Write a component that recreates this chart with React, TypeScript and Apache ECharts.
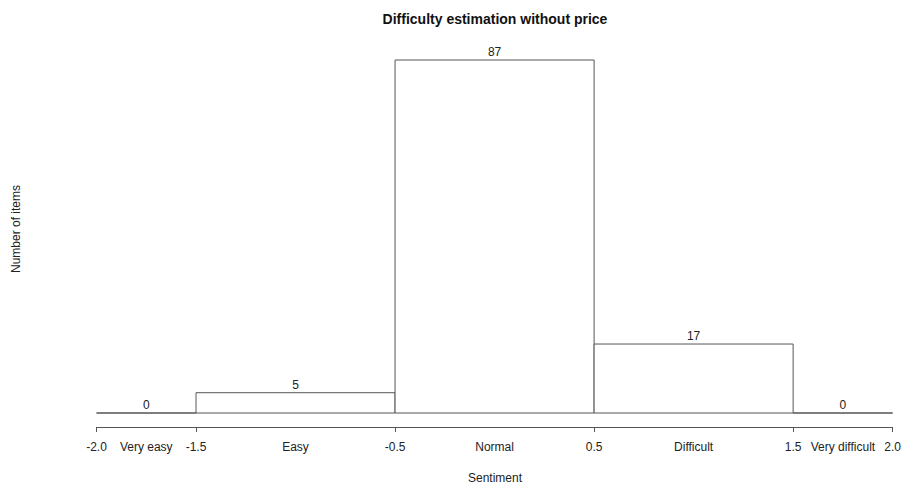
import React, { useEffect, useRef } from "react";
import * as echarts from "echarts";

// Histogram bins on the sentiment scale
const binStart = [-2.0, -1.5, -0.5, 0.5, 1.5];
const binEnd = [-1.5, -0.5, 0.5, 1.5, 2.0];
const counts = [0, 5, 87, 17, 0];

// Axis ticks and the class names placed between them
const tickValues = [-2.0, -1.5, -0.5, 0.5, 1.5, 2.0];
const tickLabels = ["-2.0", "-1.5", "-0.5", "0.5", "1.5", "2.0"];
const classCenters = [-1.75, -1.0, 0.0, 1.0, 1.75];
const classNames = ["Very easy", "Easy", "Normal", "Difficult", "Very difficult"];

const FONT = "'Liberation Sans', Arial, Helvetica, sans-serif";
const INK = "#222";
const LINE = "#555";

export default function App() {
  const ref = useRef<HTMLDivElement>(null);

  useEffect(() => {
    if (!ref.current) return;
    const chart = echarts.init(ref.current, undefined, { renderer: "svg" });

    const labelMap = new Map<number, string>();
    tickValues.forEach((v, i) => labelMap.set(v, tickLabels[i]));
    classCenters.forEach((v, i) => labelMap.set(v, classNames[i]));
    const labelValues = [...tickValues, ...classCenters].sort((a, b) => a - b);

    const data = counts.map((c, i) => [binStart[i], binEnd[i], c]);

    chart.setOption({
      animation: false,
      backgroundColor: "#fff",
      grid: { left: 96.5, right: 9.5, top: 60, bottom: 73 },
      xAxis: {
        type: "value",
        min: -2,
        max: 2,
        offset: 14,
        splitLine: { show: false },
        axisLine: { show: true, onZero: false, lineStyle: { color: LINE, width: 1 } },
        axisTick: {
          show: true,
          length: 5,
          customValues: tickValues,
          lineStyle: { color: LINE },
        },
        axisLabel: {
          customValues: labelValues,
          margin: 14,
          color: INK,
          fontSize: 12,
          fontFamily: FONT,
          formatter: (v: number) => labelMap.get(v) ?? "",
        },
      },
      yAxis: {
        type: "value",
        min: 0,
        max: 87,
        show: false,
      },
      graphic: [
        {
          type: "text",
          x: 495,
          y: 19,
          style: {
            text: "Difficulty estimation without price",
            align: "center",
            verticalAlign: "middle",
            fill: "#111",
            fontSize: 14,
            fontWeight: "bold",
            fontFamily: FONT,
          },
        },
        {
          type: "text",
          x: 495,
          y: 478,
          style: {
            text: "Sentiment",
            align: "center",
            verticalAlign: "middle",
            fill: INK,
            fontSize: 12,
            fontFamily: FONT,
          },
        },
        {
          type: "text",
          x: 16,
          y: 229,
          rotation: Math.PI / 2,
          style: {
            text: "Number of items",
            align: "center",
            verticalAlign: "middle",
            fill: INK,
            fontSize: 12,
            fontFamily: FONT,
          },
        },
      ],
      series: [
        {
          type: "custom",
          data,
          renderItem: (_params: any, api: any) => {
            const x0 = api.value(0);
            const x1 = api.value(1);
            const c = api.value(2);
            const pTop = api.coord([x0, c]);
            const pEnd = api.coord([x1, 0]);
            const left = pTop[0];
            const right = pEnd[0];
            const top = pTop[1];
            const base = pEnd[1];
            return {
              type: "group",
              children: [
                {
                  type: "polygon",
                  shape: {
                    points: [
                      [left, base],
                      [left, top],
                      [right, top],
                      [right, base],
                    ],
                  },
                  style: { fill: "#fff", stroke: LINE, lineWidth: 1 },
                },
                {
                  type: "text",
                  style: {
                    text: String(c),
                    x: (left + right) / 2,
                    y: top - 2,
                    align: "center",
                    verticalAlign: "bottom",
                    fill: INK,
                    fontSize: 12,
                    fontFamily: FONT,
                  },
                },
              ],
            };
          },
        },
      ],
    });

    return () => chart.dispose();
  }, []);

  return <div ref={ref} style={{ width: 904, height: 486, position: "absolute", left: 0, top: 0 }} />;
}
